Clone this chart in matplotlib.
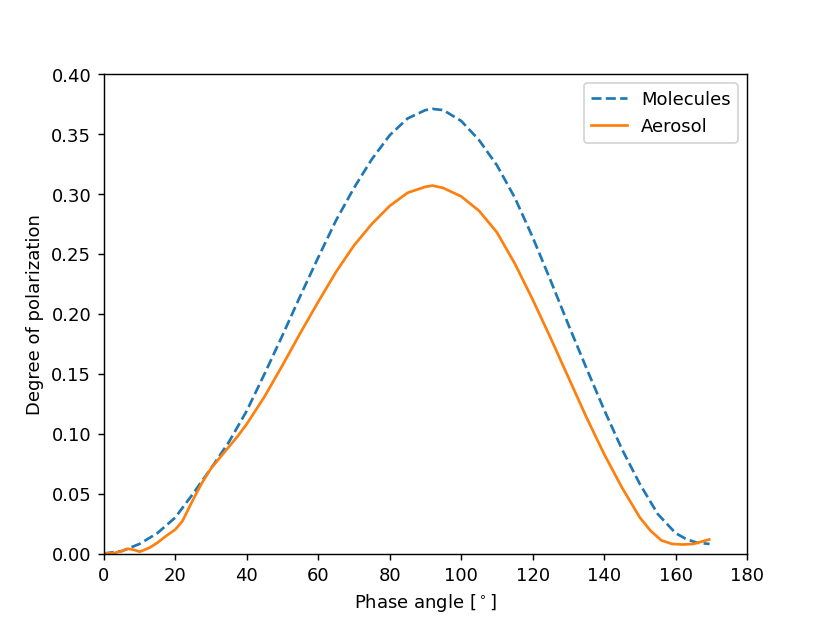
import numpy as np
import matplotlib
matplotlib.use("Agg")
import matplotlib.pyplot as plt

# values
mol_angle = [0, 5, 10, 15, 20, 25, 30, 35, 40, 45, 50, 55, 60, 65, 70, 75,
             80, 85, 90, 92, 95, 100, 105, 110, 115, 120, 125, 130, 135, 140,
             145, 150, 155, 160, 163, 166, 169.5]
mol_pol = [0.0, 0.002, 0.008, 0.017, 0.030, 0.050, 0.071, 0.093, 0.119,
           0.150, 0.182, 0.215, 0.247, 0.278, 0.305, 0.329, 0.349, 0.363,
           0.370, 0.371, 0.370, 0.361, 0.345, 0.324, 0.297, 0.264, 0.228,
           0.191, 0.155, 0.120, 0.087, 0.058, 0.033, 0.017, 0.012, 0.009,
           0.008]

aer_angle = [0, 3, 5, 6.8, 8.5, 10.1, 12.9, 15, 17.6, 20, 22, 25, 27.5, 30,
             32.5, 35, 37.5, 40, 45, 50, 55, 60, 65, 70, 75, 80, 85, 90, 92,
             95, 100, 105, 110, 115, 120, 125, 130, 135, 140, 145, 150, 153,
             156, 159, 162, 165, 169.4]
aer_pol = [0.0, 0.0005, 0.002, 0.004, 0.003, 0.0015, 0.005, 0.009, 0.015,
           0.020, 0.027, 0.045, 0.059, 0.071, 0.080, 0.089, 0.098, 0.108,
           0.131, 0.157, 0.184, 0.210, 0.235, 0.257, 0.275, 0.290, 0.301,
           0.306, 0.307, 0.305, 0.298, 0.286, 0.268, 0.242, 0.212, 0.180,
           0.147, 0.114, 0.083, 0.055, 0.030, 0.019, 0.011, 0.008, 0.0075,
           0.008, 0.0117]

fig = plt.figure(figsize=(6.4, 4.8), dpi=129.7)
ax = fig.add_subplot(111)
ax.plot(mol_angle, mol_pol, '--', label='Molecules')
ax.plot(aer_angle, aer_pol, '-', label='Aerosol')
ax.set_xlim(0, 180)
ax.set_ylim(0, 0.40)
ax.set_xlabel(r'Phase angle [$^\circ$]')
ax.set_ylabel('Degree of polarization')
ax.legend()
fig.savefig('out.png')
